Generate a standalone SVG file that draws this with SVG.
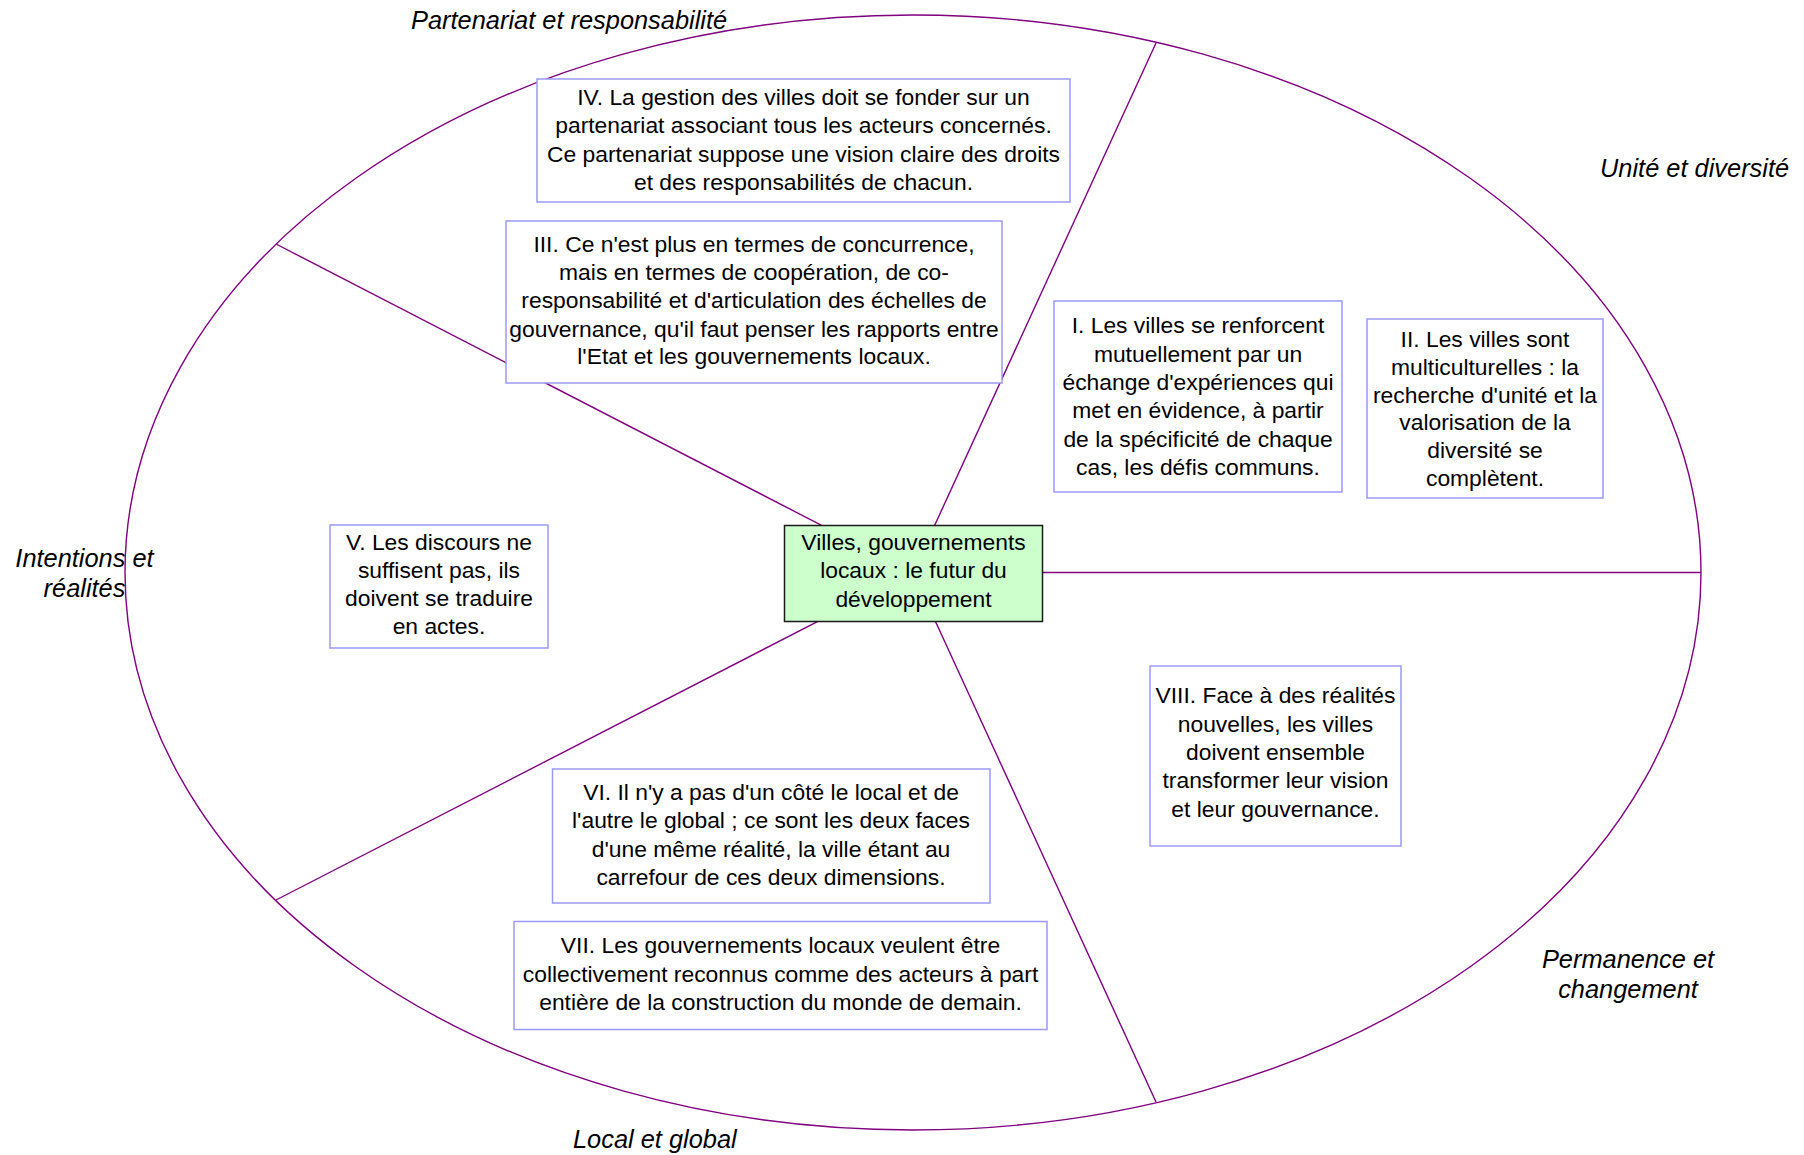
<svg xmlns="http://www.w3.org/2000/svg" width="1804" height="1155" viewBox="0 0 1804 1155">
<style>
.conn{stroke:#800080;stroke-width:1.4;fill:none}
.box{fill:#ffffff;stroke:#9999ff;stroke-width:1.5}
.core{fill:#ccffcc;stroke:#1a1a1a;stroke-width:1.5}
.t{font-family:"Liberation Sans",Arial,sans-serif;font-size:22.85px;fill:#000;text-anchor:middle}
.lab{font-family:"Liberation Sans",Arial,sans-serif;font-size:25.4px;font-style:italic;fill:#000}
</style>
<rect width="1804" height="1155" fill="#ffffff"/>
<g id="connectors">
<ellipse class="conn" cx="913" cy="572.5" rx="788" ry="557.5"/>
<line class="conn" x1="913" y1="572.5" x2="1156" y2="43"/>
<line class="conn" x1="913" y1="572.5" x2="276" y2="244"/>
<line class="conn" x1="913" y1="572.5" x2="276" y2="900"/>
<line class="conn" x1="913" y1="572.5" x2="1156" y2="1102"/>
<line class="conn" x1="913" y1="572.5" x2="1701" y2="572.5"/>
</g>
<g id="labels">
<text class="lab" x="411" y="29">Partenariat et responsabilité</text>
<text class="lab" x="1600" y="177">Unité et diversité</text>
<text class="lab" x="84.5" y="567" text-anchor="middle">Intentions et</text>
<text class="lab" x="84.5" y="597" text-anchor="middle">réalités</text>
<text class="lab" x="1628" y="968" text-anchor="middle">Permanence et</text>
<text class="lab" x="1628" y="998" text-anchor="middle">changement</text>
<text class="lab" x="573" y="1148">Local et global</text>
</g>
<g id="node-IV">
<rect class="box" x="537" y="79" width="533" height="123"/>
<text class="t" x="803.5" y="105">IV. La gestion des villes doit se fonder sur un</text>
<text class="t" x="803.5" y="133.3">partenariat associant tous les acteurs concernés.</text>
<text class="t" x="803.5" y="161.6">Ce partenariat suppose une vision claire des droits</text>
<text class="t" x="803.5" y="190">et des responsabilités de chacun.</text>
</g>
<g id="node-III">
<rect class="box" x="506" y="221" width="496" height="162"/>
<text class="t" x="754" y="251.7">III. Ce n'est plus en termes de concurrence,</text>
<text class="t" x="754" y="280">mais en termes de coopération, de co-</text>
<text class="t" x="754" y="308.3">responsabilité et d'articulation des échelles de</text>
<text class="t" x="754" y="336.6">gouvernance, qu'il faut penser les rapports entre</text>
<text class="t" x="754" y="364">l'Etat et les gouvernements locaux.</text>
</g>
<g id="node-I">
<rect class="box" x="1054" y="301" width="288" height="191"/>
<text class="t" x="1198" y="333.3">I. Les villes se renforcent</text>
<text class="t" x="1198" y="361.6">mutuellement par un</text>
<text class="t" x="1198" y="390">échange d'expériences qui</text>
<text class="t" x="1198" y="418.3">met en évidence, à partir</text>
<text class="t" x="1198" y="446.6">de la spécificité de chaque</text>
<text class="t" x="1198" y="475">cas, les défis communs.</text>
</g>
<g id="node-II">
<rect class="box" x="1367" y="319" width="236" height="179"/>
<text class="t" x="1485" y="346.7">II. Les villes sont</text>
<text class="t" x="1485" y="374.6">multiculturelles : la</text>
<text class="t" x="1485" y="402.5">recherche d'unité et la</text>
<text class="t" x="1485" y="430.4">valorisation de la</text>
<text class="t" x="1485" y="458.3">diversité se</text>
<text class="t" x="1485" y="486.2">complètent.</text>
</g>
<g id="node-V">
<rect class="box" x="330" y="525" width="218" height="123"/>
<text class="t" x="439" y="550">V. Les discours ne</text>
<text class="t" x="439" y="578">suffisent pas, ils</text>
<text class="t" x="439" y="606">doivent se traduire</text>
<text class="t" x="439" y="634">en actes.</text>
</g>
<g id="node-center">
<rect class="core" x="784.5" y="525.5" width="258" height="96"/>
<text class="t" x="913.5" y="549.5">Villes, gouvernements</text>
<text class="t" x="913.5" y="578">locaux : le futur du</text>
<text class="t" x="913.5" y="606.5">développement</text>
</g>
<g id="node-VI">
<rect class="box" x="552.5" y="769" width="437.5" height="134"/>
<text class="t" x="771" y="800">VI. Il n'y a pas d'un côté le local et de</text>
<text class="t" x="771" y="828.3">l'autre le global ; ce sont les deux faces</text>
<text class="t" x="771" y="856.6">d'une même réalité, la ville étant au</text>
<text class="t" x="771" y="884.5">carrefour de ces deux dimensions.</text>
</g>
<g id="node-VII">
<rect class="box" x="514" y="921.5" width="533" height="108"/>
<text class="t" x="780.5" y="953">VII. Les gouvernements locaux veulent être</text>
<text class="t" x="780.5" y="981.5">collectivement reconnus comme des acteurs à part</text>
<text class="t" x="780.5" y="1010">entière de la construction du monde de demain.</text>
</g>
<g id="node-VIII">
<rect class="box" x="1150" y="666" width="251" height="180"/>
<text class="t" x="1275.5" y="703.3">VIII. Face à des réalités</text>
<text class="t" x="1275.5" y="731.6">nouvelles, les villes</text>
<text class="t" x="1275.5" y="760">doivent ensemble</text>
<text class="t" x="1275.5" y="788.3">transformer leur vision</text>
<text class="t" x="1275.5" y="816.6">et leur gouvernance.</text>
</g>
</svg>
